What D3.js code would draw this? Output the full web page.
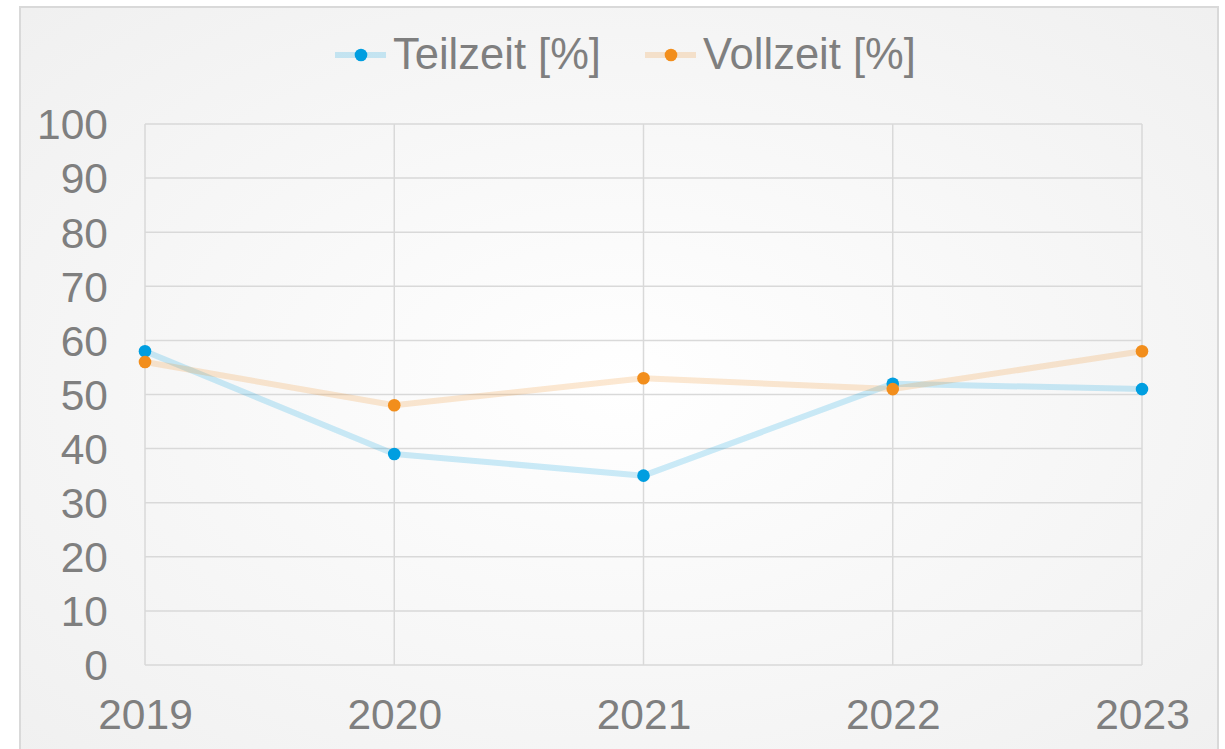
<!DOCTYPE html>
<html>
<head>
<meta charset="utf-8">
<script src="https://cdn.jsdelivr.net/npm/d3@7"></script>
<style>
  html, body { margin: 0; padding: 0; background: #ffffff; }
  svg { display: block; }
  text { font-family: "Liberation Sans", Arial, sans-serif; fill: #7f7f7f; }
</style>
</head>
<body>
<svg id="chart" width="1225" height="749"></svg>
<script>
const years = ["2019", "2020", "2021", "2022", "2023"];
const teilzeit = [58, 39, 35, 52, 51];
const vollzeit = [56, 48, 53, 51, 58];
const yTicks = [0, 10, 20, 30, 40, 50, 60, 70, 80, 90, 100];
const seriesNames = ["Teilzeit [%]", "Vollzeit [%]"];
const seriesColors = ["#009ee0", "#f28e1c"];

const W = 1225, H = 749;
const svg = d3.select("#chart");

// background gradient
const defs = svg.append("defs");
const rg = defs.append("radialGradient").attr("id", "bg")
  .attr("cx", "50%").attr("cy", "50%").attr("r", "70%");
rg.append("stop").attr("offset", "0%").attr("stop-color", "#ffffff");
rg.append("stop").attr("offset", "100%").attr("stop-color", "#f0f0f0");

svg.append("rect").attr("x", 20).attr("y", 7).attr("width", 1198).attr("height", 760)
  .attr("fill", "url(#bg)").attr("stroke", "#d9d9d9").attr("stroke-width", 2);

const plot = { left: 145, right: 1142, top: 124, bottom: 665 };

const x = d3.scalePoint().domain(years).range([plot.left, plot.right]);
const y = d3.scaleLinear().domain([0, 100]).range([plot.bottom, plot.top]);

// gridlines
const g = svg.append("g");
g.selectAll("line.h").data(yTicks).join("line")
  .attr("x1", plot.left).attr("x2", plot.right)
  .attr("y1", d => y(d)).attr("y2", d => y(d))
  .attr("stroke", "#d9d9d9").attr("stroke-width", 1.5);
g.selectAll("line.v").data(years).join("line")
  .attr("x1", d => x(d)).attr("x2", d => x(d))
  .attr("y1", plot.top).attr("y2", plot.bottom)
  .attr("stroke", "#d9d9d9").attr("stroke-width", 1.5);

// y axis labels
const yAxis = d3.axisLeft(y).tickValues(yTicks).tickSize(0).tickPadding(0);
const ya = svg.append("g").attr("transform", `translate(108,0)`).call(yAxis);
ya.select(".domain").remove();
ya.selectAll("text").attr("font-size", 42.5).attr("fill", "#7f7f7f")
  .attr("font-family", '"Liberation Sans", Arial, sans-serif').attr("dy", "0.35em");

// x axis labels
const xAxis = d3.axisBottom(x).tickSize(0).tickPadding(0);
const xa = svg.append("g").attr("transform", `translate(0,699)`).call(xAxis);
xa.select(".domain").remove();
xa.selectAll("text").attr("font-size", 42.5).attr("fill", "#7f7f7f")
  .attr("font-family", '"Liberation Sans", Arial, sans-serif').attr("dy", "0.71em");

// series
const data = [teilzeit, vollzeit];
const line = d3.line().x((d, i) => x(years[i])).y(d => y(d));
data.forEach((vals, s) => {
  const sg = svg.append("g");
  sg.append("path").datum(vals).attr("d", line)
    .attr("fill", "none").attr("stroke", seriesColors[s])
    .attr("stroke-opacity", 0.2).attr("stroke-width", 6)
    .attr("stroke-linejoin", "round").attr("stroke-linecap", "round");
  sg.selectAll("circle").data(vals).join("circle")
    .attr("cx", (d, i) => x(years[i])).attr("cy", d => y(d))
    .attr("r", 6.3).attr("fill", seriesColors[s]);
});

// legend
const legendItems = [
  { name: seriesNames[0], color: seriesColors[0], x: 335 },
  { name: seriesNames[1], color: seriesColors[1], x: 645 }
];
legendItems.forEach(it => {
  const lg = svg.append("g");
  lg.append("line").attr("x1", it.x).attr("x2", it.x + 51)
    .attr("y1", 55).attr("y2", 55)
    .attr("stroke", it.color).attr("stroke-opacity", 0.2).attr("stroke-width", 6);
  lg.append("circle").attr("cx", it.x + 26).attr("cy", 55).attr("r", 6.3).attr("fill", it.color);
  lg.append("text").attr("x", it.x + 58).attr("y", 69)
    .attr("font-size", 43.5).text(it.name);
});
</script>
</body>
</html>
